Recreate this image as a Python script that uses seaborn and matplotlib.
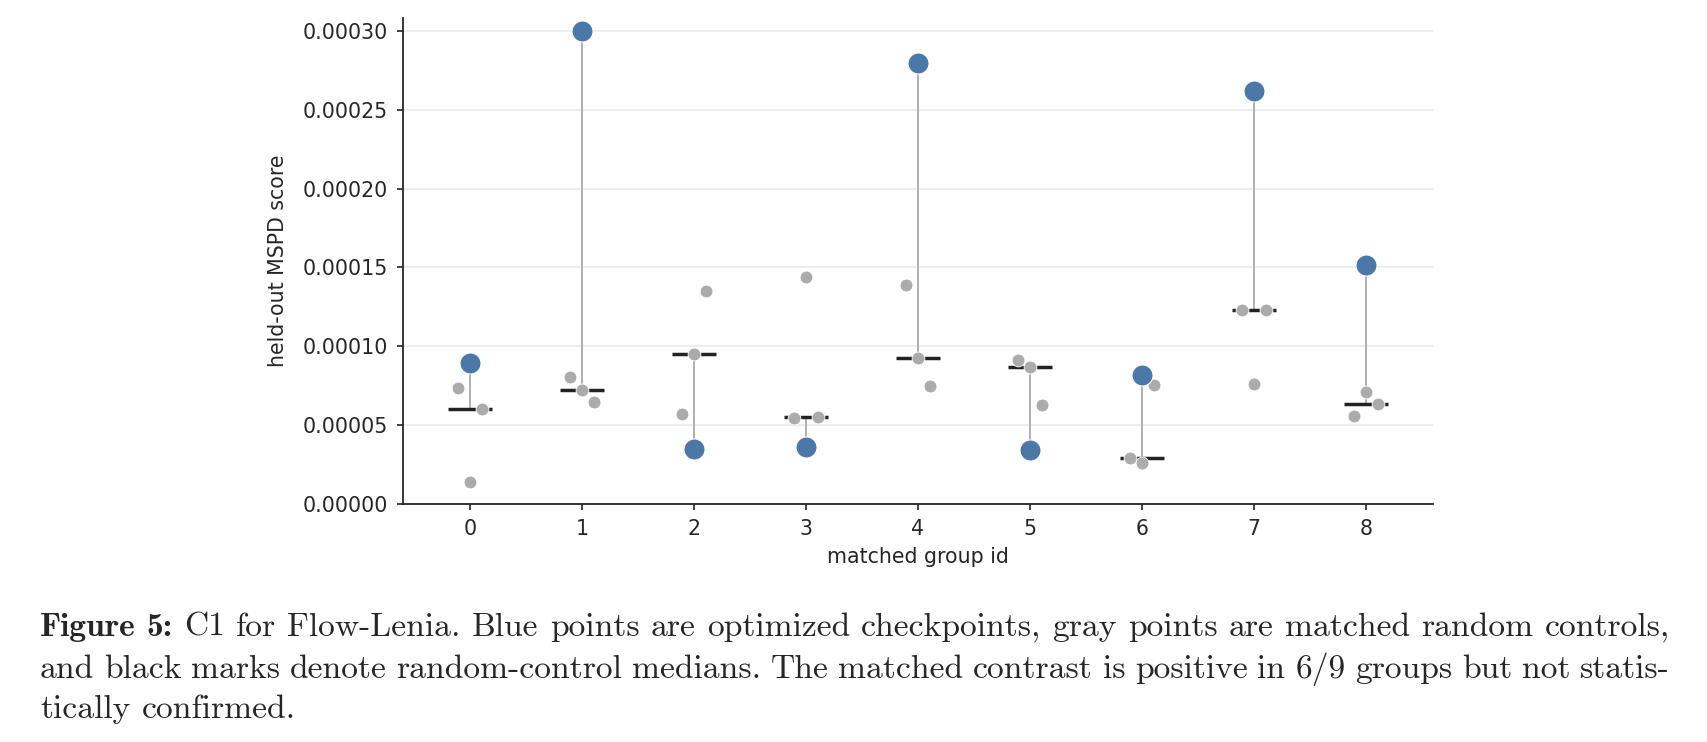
import matplotlib
matplotlib.use("Agg")
import matplotlib.pyplot as plt
import numpy as np
import pandas as pd
import seaborn as sns

# held-out MSPD score per matched group
group_ids = [0, 1, 2, 3, 4, 5, 6, 7, 8]
optimized = [8.94e-5, 3.00e-4, 3.49e-5, 3.62e-5, 2.795e-4, 3.41e-5, 8.16e-5, 2.616e-4, 1.515e-4]
control_a = [7.31e-5, 8.07e-5, 5.68e-5, 5.46e-5, 1.385e-4, 9.11e-5, 2.90e-5, 1.231e-4, 5.59e-5]
control_b = [1.40e-5, 7.22e-5, 9.49e-5, 1.438e-4, 9.24e-5, 8.70e-5, 2.57e-5, 7.58e-5, 7.08e-5]
control_c = [6.00e-5, 6.46e-5, 1.349e-4, 5.53e-5, 7.48e-5, 6.29e-5, 7.52e-5, 1.232e-4, 6.33e-5]

caption_lines = [
    "Figure 5: C1 for Flow-Lenia. Blue points are optimized checkpoints, gray points are matched random controls,",
    "and black marks denote random-control medians. The matched contrast is positive in 6/9 groups but not statis-",
    "tically confirmed.",
]

BLUE = "#4C78A8"
GRAY = "#ababab"

sns.set_style("ticks")
plt.rcParams["font.family"] = ["DejaVu Sans"]

controls = pd.DataFrame({"group": group_ids, "a": control_a, "b": control_b, "c": control_c})
long = controls.melt(id_vars="group", var_name="rep", value_name="score")
jitter = {"a": -0.11, "b": 0.0, "c": 0.11}
long["x"] = long["group"] + long["rep"].map(jitter)
medians = controls[["a", "b", "c"]].median(axis=1).values
opt = pd.DataFrame({"group": group_ids, "score": optimized})

fig = plt.figure(figsize=(17.07, 7.42), dpi=100)
ax = fig.add_axes([403 / 1707, 1 - 503.7 / 742, 1030 / 1707, 485.4 / 742])

ax.yaxis.grid(True, color="#e8e8e8", lw=1.1, zorder=0)
ax.set_axisbelow(True)

ax.vlines(opt["group"], medians, opt["score"], color="#b0b0b0", lw=1.4, zorder=2)
ax.hlines(medians, opt["group"] - 0.195, opt["group"] + 0.195, color="#222222", lw=2.5, zorder=3)
sns.scatterplot(data=long, x="x", y="score", color=GRAY, s=85, edgecolor="white",
                linewidth=0.6, ax=ax, zorder=4, legend=False)
sns.scatterplot(data=opt, x="group", y="score", color=BLUE, s=230, edgecolor="white",
                linewidth=0.8, ax=ax, zorder=5, legend=False)

ax.set_xlim(-0.6, 8.6)
ax.set_ylim(0, 0.000308)
ax.set_xticks(group_ids)
ax.set_yticks(np.arange(0, 0.00031, 0.00005))
ax.yaxis.set_major_formatter(matplotlib.ticker.FormatStrFormatter("%.5f"))
ax.tick_params(labelsize=14.8, length=4.5, width=1.2, pad=6.5, color="#222222")
ax.set_xlabel("matched group id", fontsize=14.8, labelpad=6)
ax.set_ylabel("held-out MSPD score", fontsize=14.8, labelpad=10)
for side in ["left", "bottom"]:
    ax.spines[side].set_linewidth(1.3)
sns.despine(ax=ax)

# caption, justified like the LaTeX source
cap_fs = 24.2
left_px, right_px = 40, 1670
baselines = [636, 678, 718]
renderer = fig.canvas.get_renderer()
for i, line in enumerate(caption_lines):
    words = line.split(" ")
    texts = []
    for j, w in enumerate(words):
        fam = "cmb10" if (i == 0 and j < 2) else "cmr10"
        t = fig.text(0, 1 - baselines[i] / 742, w, fontsize=cap_fs, family=fam, va="baseline")
        texts.append(t)
    widths = [t.get_window_extent(renderer).width for t in texts]
    if i < len(caption_lines) - 1:
        gap = (right_px - left_px - sum(widths)) / (len(words) - 1)
    else:
        gap = 0.333 * cap_fs * 100 / 72
    x = left_px
    for t, w in zip(texts, widths):
        t.set_x(x / 1707)
        x += w + gap

fig.savefig("out.png", dpi=100)
